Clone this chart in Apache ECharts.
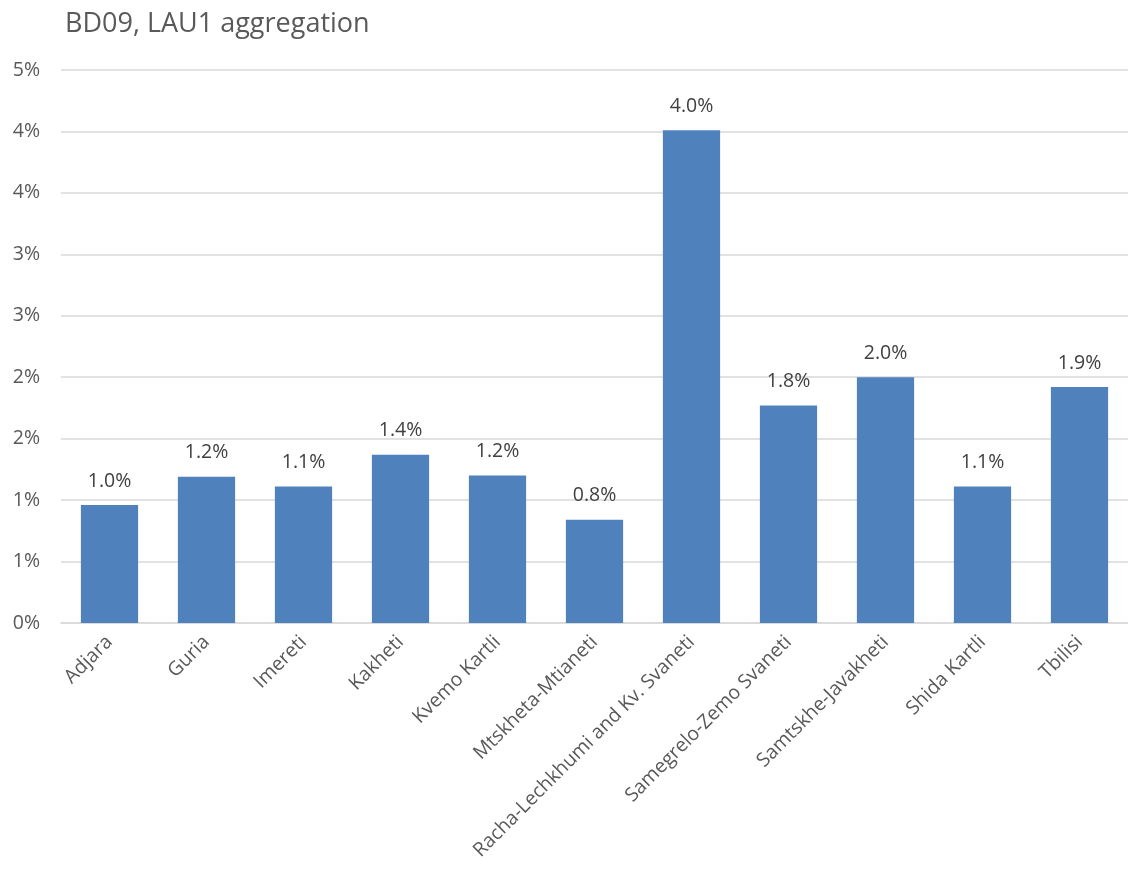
<!DOCTYPE html>
<html>
<head>
<meta charset="utf-8">
<script src="https://cdn.jsdelivr.net/npm/echarts@6/dist/echarts.min.js"></script>
<style>html,body{margin:0;padding:0;background:#fff}#c{width:1128px;height:878px}</style>
</head>
<body>
<div id="c"></div>
<script>
const titleText = 'BD09, LAU1 aggregation';
const categories = ['Adjara','Guria','Imereti','Kakheti','Kvemo Kartli','Mtskheta-Mtianeti','Racha-Lechkhumi and Kv. Svaneti','Samegrelo-Zemo Svaneti','Samtskhe-Javakheti','Shida Kartli','Tbilisi'];
const values = [0.96, 1.19, 1.11, 1.37, 1.2, 0.84, 4.01, 1.77, 2.0, 1.11, 1.92]; // percent
const yMin = 0, yMax = 4.5, yStep = 0.5;

const chart = echarts.init(document.getElementById('c'));
const font = 'Open Sans, Liberation Sans, sans-serif';
chart.setOption({
  animation: false,
  title: { text: titleText, left: 60, top: 6, textStyle: { fontFamily: font, fontSize: 27, fontWeight: 'normal', color: '#595959' } },
  grid: { left: 61, width: 1078, top: 70, bottom: 255, containLabel: false },
  xAxis: {
    type: 'category', data: categories,
    axisLine: { lineStyle: { color: '#D9D9D9', width: 1.5 } },
    axisTick: { show: false },
    axisLabel: { rotate: 45, interval: 0, fontFamily: font, fontSize: 19.5, color: '#595959', margin: 16 }
  },
  yAxis: {
    type: 'value', min: yMin, max: yMax, interval: yStep,
    axisLine: { show: false }, axisTick: { show: false },
    splitLine: { lineStyle: { color: '#D9D9D9', width: 1.5 } },
    axisLabel: { fontFamily: font, fontSize: 19.5, color: '#595959', margin: 21, formatter: v => Math.round(v + 1e-9) + '%' }
  },
  series: [{
    type: 'bar', data: values, barWidth: '59%',
    itemStyle: { color: '#4F81BD' },
    label: { show: true, position: 'top', distance: 14, fontFamily: font, fontSize: 19.5, color: '#404040', formatter: p => p.value.toFixed(1) + '%' }
  }]
});
</script>
</body>
</html>
